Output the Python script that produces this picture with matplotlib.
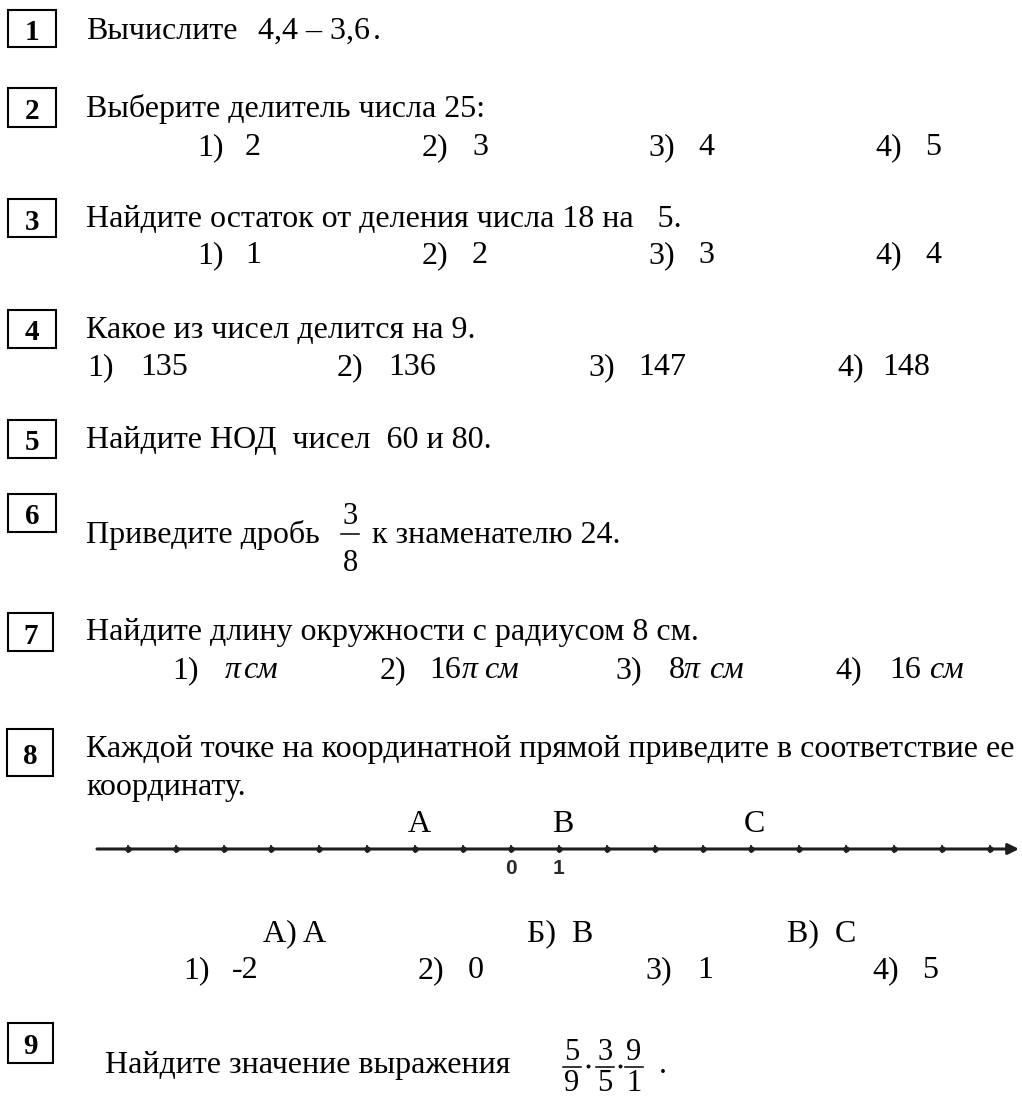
import matplotlib
matplotlib.use('Agg')
import matplotlib.pyplot as plt
from matplotlib.patches import Rectangle

SERIF = ['Liberation Serif', 'DejaVu Serif']
SANS = ['Liberation Sans', 'DejaVu Sans']
FS = 23          # body font size (pt)

# ------------------------------------------------------------------ content
item_numbers = ['1', '2', '3', '4', '5', '6', '7', '8', '9']
option_markers = ['1)', '2)', '3)', '4)']

q1_text = 'Вычислите'
q1_expr = '4,4 – 3,6'
q2_text = 'Выберите делитель числа 25:'
q2_options = ['2', '3', '4', '5']
q3_text = 'Найдите остаток от деления числа 18 на   5.'
q3_options = ['1', '2', '3', '4']
q4_text = 'Какое из чисел делится на 9.'
q4_options = ['135', '136', '147', '148']
q5_text = 'Найдите НОД  чисел  60 и 80.'
q6_before = 'Приведите дробь'
q6_numerator = '3'
q6_denominator = '8'
q6_after = 'к знаменателю 24.'
q7_text = 'Найдите длину окружности с радиусом 8 см.'
q7_coeffs = ['', '16', '8', '16']
q7_has_pi = [True, True, True, False]
q7_unit = 'см'
q8_line1 = 'Каждой точке на координатной прямой приведите в соответствие ее'
q8_line2 = 'координату.'
axis_ticks = list(range(-8, 11))
axis_min, axis_max = -8.64, 10.6
point_names = ['A', 'B', 'C']
point_values = [-2, 1, 5]
axis_labels = ['0', '1']
axis_label_values = [0, 1]
q8_letters = ['А) A', 'Б)  B', 'В)  C']
q8_options = ['-2', '0', '1', '5']
q9_text = 'Найдите значение выражения'
q9_numerators = ['5', '3', '9']
q9_denominators = ['9', '5', '1']

# ------------------------------------------------------------------ layout (pixels)
box_x = [8, 8, 8, 8, 8, 8, 8, 7, 8]
box_top = [10, 88, 199, 310, 420, 494, 613, 729, 1023]
box_w = [48, 48, 48, 48, 48, 48, 45, 46, 45]
box_h = [37, 39, 38, 38, 38, 38, 38, 47, 40]

fig = plt.figure(figsize=(10.22, 11.0), dpi=100)
fig.patch.set_facecolor('white')
ax = fig.add_axes([0, 0, 1, 1])
ax.set_xlim(0, 1022)
ax.set_ylim(1100, 0)
ax.axis('off')


def T(x, y, s, size=FS, style='normal', weight='normal', ha='left', va='baseline', fam=SERIF):
    ax.text(x, y, s, fontsize=size, family=fam, style=style, weight=weight,
            ha=ha, va=va, color='black')


# numbered boxes
for num, bx, bt, bw, bh in zip(item_numbers, box_x, box_top, box_w, box_h):
    ax.add_patch(Rectangle((bx, bt), bw, bh, fill=False, lw=1.5, ec='black'))
    T(bx + bw / 2, bt + bh / 2 + 1, num, size=21, weight='bold', ha='center',
      va='center_baseline')

TX = 86
# 1
T(TX, 39, q1_text)
T(258, 39, q1_expr)
T(373, 39, '.')


def options_row(y, mx, vx, values):
    for m, v, x1, x2 in zip(option_markers, values, mx, vx):
        T(x1, y, m)
        T(x2, y, v)


# 2
T(TX, 117, q2_text)
options_row(155, [197, 422, 648, 875], [245, 472, 698, 925], q2_options)
# 3
T(TX, 227, q3_text)
options_row(263, [197, 422, 648, 875], [245, 472, 698, 925], q3_options)
# 4
T(TX, 338, q4_text)
options_row(375, [87, 337, 588, 837], [140, 388, 638, 882], q4_options)
# 5
T(TX, 448, q5_text)
# 6
T(TX, 543, q6_before)
T(350, 524, q6_numerator, size=22, ha='center')
ax.plot([341, 359], [534, 534], color='black', lw=1.1)
T(350, 571, q6_denominator, size=22, ha='center')
T(372, 543, q6_after)
# 7
T(TX, 640, q7_text)
mk_x = [172, 380, 615, 835]
co_x = [0, 429, 669, 889]
pi_x = [225, 462, 684, 0]
un_x = [243, 484, 709, 929]
for m, c, p, a, b, cc, d in zip(option_markers, q7_coeffs, q7_has_pi, mk_x, co_x, pi_x, un_x):
    T(a, 678, m)
    if c:
        T(b, 678, c)
    if p:
        T(cc, 678, 'π', style='italic')
    T(d, 678, q7_unit, style='italic')
# 8
T(TX, 757, q8_line1)
T(TX, 795, q8_line2)

# number line in its own axes (data units = coordinates on the line)
L, R, Y = 97, 1019, 849
ax2 = fig.add_axes([L / 1022, 1 - (Y + 30) / 1100, (R - L) / 1022, 60 / 1100])
ax2.set_xlim(axis_min, axis_max)
ax2.set_ylim(-1, 1)
ax2.axis('off')
ax2.annotate('', xy=(axis_max, 0), xytext=(axis_min, 0),
             arrowprops=dict(arrowstyle='-|>', color='#1e1e1e', lw=2.2,
                             mutation_scale=16, shrinkA=0, shrinkB=0))
ax2.plot(axis_ticks, [0] * len(axis_ticks), ls='none', marker='|', ms=6,
         mew=1.3, color='#222222')
ax2.plot(axis_ticks, [0] * len(axis_ticks), ls='none', marker='o', ms=3.5,
         color='#222222')
for name, v in zip(point_names, point_values):
    ax2.annotate(name, xy=(v, 0), xytext=(3, 12.2), textcoords='offset points',
                 ha='center', va='baseline', fontsize=FS, family=SERIF)
for lab, v in zip(axis_labels, axis_label_values):
    ax2.annotate(lab, xy=(v, 0), xytext=(0, -13.7), textcoords='offset points',
                 ha='center', va='center', fontsize=15, family=SANS,
                 weight='bold', color='#2a2a2a')

for s, x in zip(q8_letters, [263, 527, 787]):
    T(x, 941, s)
options_row(978, [183, 418, 645, 872], [232, 468, 697, 922], q8_options)

# 9
T(105, 1073, q9_text)
for n, d, x in zip(q9_numerators, q9_denominators, [572, 605, 634]):
    T(x, 1060, n, size=22, ha='center')
    ax.plot([x - 9, x + 9], [1067, 1067], color='black', lw=1.1)
    T(x, 1091, d, size=22, ha='center')
for x in [588, 620]:
    ax.plot([x], [1066], marker='o', ms=1.8, color='black')
T(659, 1073, '.')

fig.savefig('out.png', dpi=100, facecolor='white')
